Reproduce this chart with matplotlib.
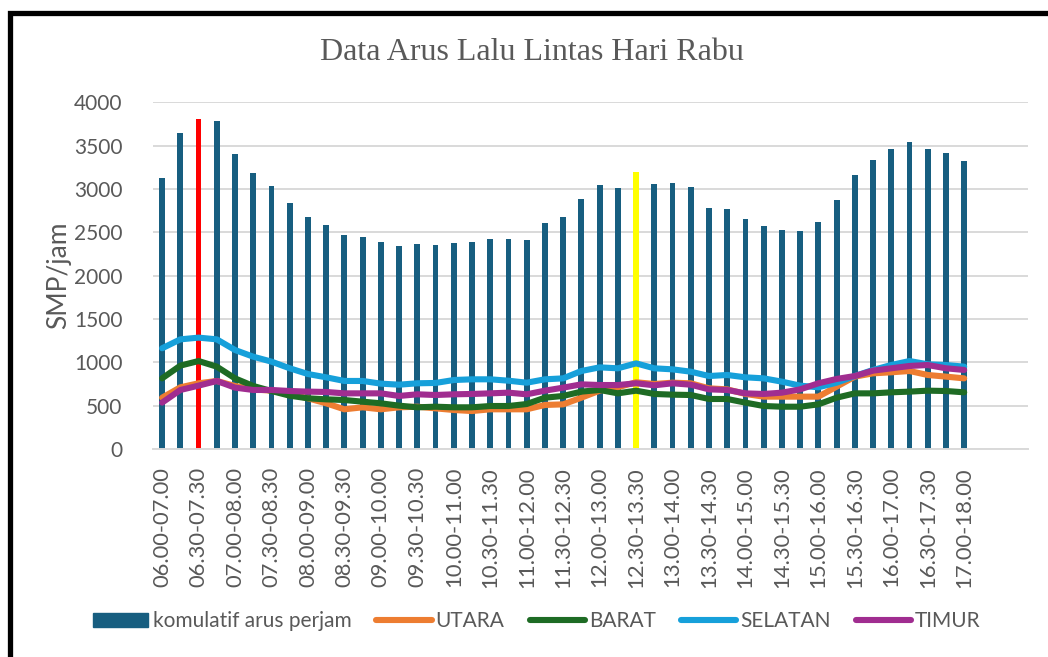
import matplotlib
matplotlib.use("Agg")
import matplotlib.pyplot as plt
from matplotlib.patches import Rectangle, Patch

periods = ["06.00-07.00", "06.15-07.15", "06.30-07.30", "06.45-07.45",
           "07.00-08.00", "07.15-08.15", "07.30-08.30", "07.45-08.45",
           "08.00-09.00", "08.15-09.15", "08.30-09.30", "08.45-09.45",
           "09.00-10.00", "09.15-10.15", "09.30-10.30", "09.45-10.45",
           "10.00-11.00", "10.15-11.15", "10.30-11.30", "10.45-11.45",
           "11.00-12.00", "11.15-12.15", "11.30-12.30", "11.45-12.45",
           "12.00-13.00", "12.15-13.15", "12.30-13.30", "12.45-13.45",
           "13.00-14.00", "13.15-14.15", "13.30-14.30", "13.45-14.45",
           "14.00-15.00", "14.15-15.15", "14.30-15.30", "14.45-15.45",
           "15.00-16.00", "15.15-16.15", "15.30-16.30", "15.45-16.45",
           "16.00-17.00", "16.15-17.15", "16.30-17.30", "16.45-17.45",
           "17.00-18.00"]

komulatif = [3123, 3646, 3808, 3781, 3408, 3185, 3035, 2838, 2673, 2581, 2465, 2442,
             2388, 2346, 2362, 2350, 2381, 2388, 2427, 2419, 2408, 2604, 2673, 2888,
             3042, 3012, 3196, 3054, 3065, 3019, 2785, 2769, 2650, 2573, 2527, 2519,
             2615, 2869, 3162, 3335, 3462, 3542, 3465, 3412, 3323]

utara = [592, 712, 758, 785, 727, 688, 673, 635, 585, 527, 458, 481, 458, 481, 488, 469,
         450, 438, 458, 458, 458, 508, 515, 592, 673, 712, 770, 750, 765, 758, 700, 688,
         635, 604, 604, 604, 604, 719, 835, 873, 885, 900, 854, 835, 815]

barat = [815, 962, 1015, 950, 815, 727, 669, 615, 585, 573, 565, 546, 527, 500, 481, 488,
         481, 481, 496, 496, 519, 592, 612, 662, 681, 642, 673, 635, 627, 623, 577, 577,
         535, 496, 488, 488, 515, 592, 642, 642, 654, 662, 673, 669, 654]

selatan = [1162, 1265, 1285, 1265, 1142, 1065, 1008, 931, 865, 827, 785, 785, 754, 742, 758, 762,
           796, 804, 804, 788, 765, 804, 815, 900, 942, 931, 988, 931, 919, 892, 842, 854,
           827, 815, 777, 731, 712, 765, 842, 912, 969, 1015, 977, 969, 950]

timur = [535, 681, 731, 785, 708, 681, 681, 669, 662, 658, 642, 642, 642, 612, 631, 623,
         631, 635, 642, 650, 631, 673, 708, 746, 738, 738, 758, 735, 758, 742, 688, 681,
         642, 635, 650, 688, 758, 808, 842, 904, 931, 958, 969, 931, 912]

peak_morning = "06.30-07.30"
peak_noon = "12.30-13.30"

BAR = "#175E80"
GRAY = "#595959"
FONT = ["Lato", "DejaVu Sans"]

plt.rcParams["font.family"] = FONT

fig = plt.figure(figsize=(10.48, 6.57), dpi=100)
ax = fig.add_axes([153 / 1048, 1 - 449 / 657, (1028 - 153) / 1048, (449 - 102.3) / 657])

x = list(range(len(periods)))
colors = []
for p in periods:
    if p == peak_morning:
        colors.append("#FF0000")
    elif p == peak_noon:
        colors.append("#FFFF00")
    else:
        colors.append(BAR)

ax.bar(x, komulatif, width=0.32, color=colors, zorder=2)

lw = 4.4
l1, = ax.plot(x, utara, color="#ED7D31", lw=lw, zorder=3, solid_capstyle="round")
l2, = ax.plot(x, barat, color="#1E6B24", lw=lw, zorder=3, solid_capstyle="round")
l3, = ax.plot(x, selatan, color="#16A0DA", lw=lw, zorder=3, solid_capstyle="round")
l4, = ax.plot(x, timur, color="#A02D90", lw=lw, zorder=3, solid_capstyle="round")

ax.set_xlim(-0.5, 47.5)
ax.set_ylim(0, 4000)
ax.set_yticks(range(0, 4001, 500))
ax.grid(axis="y", color="#D9D9D9", lw=1.4, zorder=0)
ax.set_axisbelow(True)
for s in ["top", "right", "left"]:
    ax.spines[s].set_visible(False)
ax.spines["bottom"].set_color("#D9D9D9")
ax.spines["bottom"].set_linewidth(1.4)

ax.set_xticks(x[::2])
ax.set_xticklabels(periods[::2], rotation=90, fontsize=15.8, color=GRAY)
ax.tick_params(axis="x", length=0, pad=13)
ax.tick_params(axis="y", length=0, pad=22, labelsize=15, labelcolor=GRAY)

ax.set_ylabel("SMP/jam", fontsize=19, color=GRAY, labelpad=2)

fig.text(532 / 1048, 1 - 52 / 657, "Data Arus Lalu Lintas Hari Rabu",
         ha="center", va="center", fontsize=23, color=GRAY,
         family=["Liberation Serif", "DejaVu Serif"])

bar_handle = Patch(color=BAR)
fig.legend([bar_handle, l1, l2, l3, l4],
           ["komulatif arus perjam", "UTARA", "BARAT", "SELATAN", "TIMUR"],
           loc="center", bbox_to_anchor=(537 / 1048, 1 - 621 / 657),
           ncol=5, frameon=False, fontsize=15, handlelength=2.65, handleheight=0.68,
           handletextpad=0.2, columnspacing=1.2, labelcolor=GRAY)

fig.patches.append(Rectangle((9.5 / 1048, -0.2), 1.5, 1 - 12.5 / 657 + 0.2,
                             transform=fig.transFigure, fill=False, ec="black", lw=3.8))

fig.savefig("out.png", dpi=100)
